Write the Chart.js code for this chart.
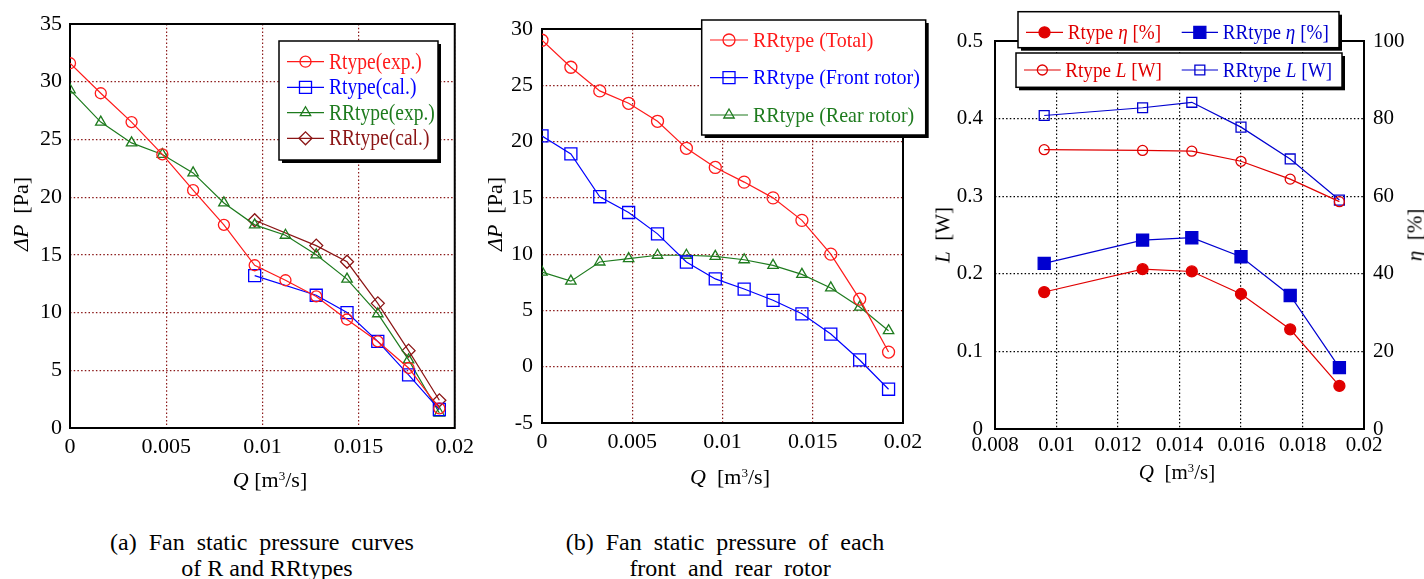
<!DOCTYPE html>
<html>
<head>
<meta charset="utf-8">
<script src="https://cdn.jsdelivr.net/npm/chart.js@4/dist/chart.umd.min.js"></script>
<style>
  body { margin:0; background:#fff; width:1424px; height:579px; overflow:hidden; position:relative;
         font-family:"Liberation Serif","Times New Roman",serif; color:#000; }
  canvas { position:absolute; top:0; }
  .t { position:absolute; white-space:nowrap; line-height:1; font-size:22px; }
  .rot { transform:translate(-50%,-50%) rotate(-90deg); }
  .cx { transform:translate(-50%,-50%); }
  .cap { position:absolute; white-space:nowrap; font-size:24px; line-height:1; transform:translate(-50%,-50%); word-spacing:6px; }
  sup { font-size:0.6em; vertical-align:0.55em; line-height:0; }
</style>
</head>
<body>
<canvas id="cA" width="480" height="470" style="left:0px"></canvas>
<canvas id="cB" width="470" height="470" style="left:475px"></canvas>
<canvas id="cC" width="479" height="470" style="left:945px"></canvas>

<div class="t rot" style="left:21px;top:214px"><i>ΔP</i>&nbsp; [Pa]</div>
<div class="t cx" style="left:270px;top:480px"><i>Q</i> [m<sup>3</sup>/s]</div>
<div class="t rot" style="left:495px;top:214px"><i>ΔP</i>&nbsp; [Pa]</div>
<div class="t cx" style="left:730px;top:477px"><i>Q</i>&nbsp; [m<sup>3</sup>/s]</div>
<div class="t rot" style="left:943px;top:235px;font-size:21px"><i>L</i>&nbsp; [W]</div>
<div class="t rot" style="left:1415px;top:235px;font-size:21px"><i>η</i>&nbsp; [%]</div>
<div class="t cx" style="left:1177px;top:472px;font-size:21px"><i>Q</i>&nbsp; [m<sup>3</sup>/s]</div>

<div class="cap" style="left:262px;top:542px">(a)  Fan  static  pressure  curves</div>
<div class="cap" style="left:267px;top:568px;word-spacing:0">of R and RRtypes</div>
<div class="cap" style="left:725px;top:542px">(b)  Fan  static  pressure  of  each</div>
<div class="cap" style="left:730px;top:568px">front  and  rear  rotor</div>

<script>
// Flow rates [m3/s]
const qFull = [0, 0.0016, 0.0032, 0.0048, 0.0064, 0.008, 0.0096, 0.0112, 0.0128, 0.0144, 0.016, 0.0176, 0.0192];
const qCal  = [0.0096, 0.0128, 0.0144, 0.016, 0.0176, 0.0192];

// (a) static pressure [Pa]
const rExp  = [31.6, 29.0, 26.5, 23.7, 20.6, 17.6, 14.1, 12.8, 11.4, 9.4, 7.5, 5.2, 1.7];
const rCal  = [13.2, 11.5, 10.0, 7.5, 4.6, 1.6];
const rrExp = [29.3, 26.5, 24.7, 23.7, 22.1, 19.5, 17.6, 16.7, 15.0, 12.9, 9.9, 5.9, 1.3];
const rrCal = [18.0, 15.8, 14.4, 10.8, 6.7, 2.4];

// (b) static pressure of each rotor [Pa]
const rrTotal = [29.0, 26.6, 24.5, 23.4, 21.8, 19.4, 17.7, 16.4, 15.0, 13.0, 10.0, 6.0, 1.3];
const rrFront = [20.5, 18.9, 15.1, 13.7, 11.8, 9.3, 7.8, 6.9, 5.9, 4.7, 2.9, 0.6, -2.0];
const rrRear  = [8.4, 7.6, 9.3, 9.6, 9.9, 9.9, 9.8, 9.5, 9.0, 8.2, 7.0, 5.3, 3.2];

// (c) efficiency [%] and shaft power [W]
const rEta  = [35.3, 41.2, 40.6, 34.8, 25.7, 11.1];
const rrEta = [42.7, 48.7, 49.3, 44.4, 34.4, 15.8];
const rL    = [0.360, 0.359, 0.358, 0.345, 0.322, 0.293];
const rrL   = [0.404, 0.414, 0.421, 0.389, 0.348, 0.295];

const FONT = '"Liberation Serif", "Times New Roman", serif';
const RED = '#ff1a1a', BLUE = '#0000ff', GREEN = '#1e7b1e', DRED = '#8b1515';
const RED_C = '#e00000', BLUE_C = '#0000d0';
const GRID_RED = '#8b1a1a';

const pts = (xs, ys) => xs.map((x, i) => ({ x, y: ys[i] }));
const fmt = v => String(parseFloat(Number(v).toFixed(6)));

function series(label, xs, ys, color, style, r, filled, extra) {
  return Object.assign({
    label, data: pts(xs, ys),
    borderColor: color, borderWidth: 1.2,
    pointStyle: style, pointRadius: r, pointHoverRadius: r,
    pointBorderColor: color, pointBorderWidth: 1.3,
    pointBackgroundColor: filled ? color : 'rgba(0,0,0,0)',
    tension: 0, fill: false
  }, extra || {});
}

function axis(min, max, step, size, pad, gridColor, fit, extra) {
  return Object.assign({
    type: 'linear', min, max,
    ticks: { stepSize: step, color: '#000', font: { family: FONT, size }, padding: pad,
             callback: v => fmt(v), maxRotation: 0, autoSkip: false, includeBounds: true },
    grid: { color: gridColor, lineWidth: 1.2, drawTicks: false },
    border: { display: false, dash: [1.5, 2.2] },
    afterFit: fit
  }, extra || {});
}

// Solid frame around the plotting area
const framePlugin = {
  id: 'frame',
  beforeDatasetsDraw(chart) {
    const { ctx, chartArea: a } = chart;
    ctx.save();
    ctx.strokeStyle = '#000';
    ctx.lineWidth = 2;
    ctx.strokeRect(a.left, a.top, a.right - a.left, a.bottom - a.top);
    ctx.restore();
  }
};

function marker(ctx, style, r, color, filled, x, y) {
  const opts = { pointStyle: style, radius: r, rotation: 0, borderWidth: 1.3 };
  ctx.save();
  ctx.strokeStyle = color;
  ctx.fillStyle = filled ? color : 'rgba(0,0,0,0)';
  ctx.lineWidth = 1.3;
  Chart.helpers.drawPoint(ctx, opts, x, y);
  ctx.restore();
}

// Boxed legends with a drop shadow
const boxLegendPlugin = {
  id: 'boxLegend',
  afterDraw(chart, args, opts) {
    const ctx = chart.ctx;
    (opts.boxes || []).forEach(b => {
      ctx.save();
      ctx.fillStyle = '#000';
      ctx.fillRect(b.x + 3, b.y + 3, b.w, b.h);
      ctx.fillStyle = '#fff';
      ctx.fillRect(b.x, b.y, b.w, b.h);
      ctx.strokeStyle = '#000';
      ctx.lineWidth = 1.5;
      ctx.strokeRect(b.x, b.y, b.w, b.h);
      b.items.forEach(it => {
        const ds = chart.data.datasets[it.ds];
        const color = ds.borderColor;
        ctx.strokeStyle = color;
        ctx.lineWidth = 1.2;
        ctx.beginPath();
        ctx.moveTo(it.x1, it.y);
        ctx.lineTo(it.x2, it.y);
        ctx.stroke();
        const filled = ds.pointBackgroundColor !== 'rgba(0,0,0,0)';
        marker(ctx, ds.pointStyle, ds.pointRadius, color, filled, (it.x1 + it.x2) / 2, it.y);
        ctx.save();
        ctx.translate(it.tx, it.y);
        ctx.scale(b.sx, 1);
        ctx.fillStyle = color;
        ctx.textBaseline = 'middle';
        let x = 0;
        it.text.forEach(([s, ital]) => {
          ctx.font = (ital ? 'italic ' : '') + b.size + 'px ' + FONT;
          ctx.fillText(s, x, 1);
          x += ctx.measureText(s).width;
        });
        ctx.restore();
      });
      ctx.restore();
    });
  }
};

Chart.defaults.devicePixelRatio = 1;
Chart.defaults.animation = false;
Chart.defaults.font.family = FONT;

const common = (padding, scales, boxes) => ({
  responsive: false,
  animation: false,
  layout: { padding },
  plugins: { legend: { display: false }, tooltip: { enabled: false }, boxLegend: { boxes } },
  scales
});

// (a) R type vs RR type
new Chart(document.getElementById('cA'), {
  type: 'line',
  data: { datasets: [
    series('Rtype(exp.)', qFull, rExp, RED, 'circle', 5.5, false),
    series('Rtype(cal.)', qCal, rCal, BLUE, 'rect', 8.5, false),
    series('RRtype(exp.)', qFull, rrExp, GREEN, 'triangle', 6, false),
    series('RRtype(cal.)', qCal, rrCal, DRED, 'rectRot', 6.5, false)
  ]},
  options: common({ left: 0, right: 22, top: 24, bottom: 0 }, {
    x: axis(0, 0.02, 0.005, 22, 6, GRID_RED, s => { s.height = 42; }),
    y: axis(0, 35, 5, 22, 8, GRID_RED, s => { s.width = 70; })
  }, [{
    x: 279, y: 41, w: 159, h: 119, size: 23, sx: 0.85,
    items: [
      { ds: 0, x1: 287, x2: 324, y: 61.7, tx: 329, text: [['Rtype(exp.)', false]] },
      { ds: 1, x1: 287, x2: 324, y: 87.3, tx: 329, text: [['Rtype(cal.)', false]] },
      { ds: 2, x1: 287, x2: 324, y: 112.7, tx: 329, text: [['RRtype(exp.)', false]] },
      { ds: 3, x1: 287, x2: 324, y: 138.3, tx: 329, text: [['RRtype(cal.)', false]] }
    ]
  }])
  , plugins: [framePlugin, boxLegendPlugin]
});

// (b) front and rear rotor of the RR type
new Chart(document.getElementById('cB'), {
  type: 'line',
  data: { datasets: [
    series('RRtype (Total)', qFull, rrTotal, RED, 'circle', 6, false),
    series('RRtype (Front rotor)', qFull, rrFront, BLUE, 'rect', 8.5, false),
    series('RRtype (Rear rotor)', qFull, rrRear, GREEN, 'triangle', 6, false)
  ]},
  options: common({ left: 0, right: 42, top: 29, bottom: 0 }, {
    x: axis(0, 0.02, 0.005, 22, 6, GRID_RED, s => { s.height = 47; }),
    y: axis(-5, 30, 5, 22, 9, GRID_RED, s => { s.width = 67; })
  }, [{
    x: 226.7, y: 20, w: 224, h: 115, size: 22, sx: 0.91,
    items: [
      { ds: 0, x1: 235, x2: 273, y: 40, tx: 278, text: [['RRtype (Total)', false]] },
      { ds: 1, x1: 235, x2: 273, y: 77.7, tx: 278, text: [['RRtype (Front rotor)', false]] },
      { ds: 2, x1: 235, x2: 273, y: 115, tx: 278, text: [['RRtype (Rear rotor)', false]] }
    ]
  }]),
  plugins: [framePlugin, boxLegendPlugin]
});

// (c) efficiency and shaft power
new Chart(document.getElementById('cC'), {
  type: 'line',
  data: { datasets: [
    series('Rtype η [%]', qCal, rEta, RED_C, 'circle', 5.5, true, { yAxisID: 'y2' }),
    series('RRtype η [%]', qCal, rrEta, BLUE_C, 'rect', 8.5, true, { yAxisID: 'y2' }),
    series('Rtype L [W]', qCal, rL, RED_C, 'circle', 5, false, { yAxisID: 'y' }),
    series('RRtype L [W]', qCal, rrL, BLUE_C, 'rect', 7, false, { yAxisID: 'y' })
  ]},
  options: common({ left: 0, right: 10, top: 41, bottom: 0 }, {
    x: axis(0.008, 0.02, 0.002, 21, 4, '#000', s => { s.height = 41; }),
    y: axis(0, 0.5, 0.1, 21, 12, '#000', s => { s.width = 50; }, { position: 'left' }),
    y2: axis(0, 100, 20, 21, 9, '#000', s => { s.width = 50; },
      { position: 'right', grid: { display: false, drawTicks: false } })
  }, [{
    x: 73, y: 11.7, w: 321, h: 36, size: 21, sx: 0.91,
    items: [
      { ds: 0, x1: 81, x2: 118, y: 32.3, tx: 122.7, text: [['Rtype ', false], ['η', true], [' [%]', false]] },
      { ds: 1, x1: 236.7, x2: 273, y: 32.3, tx: 277.7, text: [['RRtype ', false], ['η', true], [' [%]', false]] }
    ]
  }, {
    x: 71, y: 53, w: 326, h: 34.3, size: 21, sx: 0.91,
    items: [
      { ds: 2, x1: 79, x2: 115.7, y: 70, tx: 120.3, text: [['Rtype ', false], ['L', true], [' [W]', false]] },
      { ds: 3, x1: 236.7, x2: 273, y: 70, tx: 277.7, text: [['RRtype ', false], ['L', true], [' [W]', false]] }
    ]
  }]),
  plugins: [framePlugin, boxLegendPlugin]
});
</script>
</body>
</html>
